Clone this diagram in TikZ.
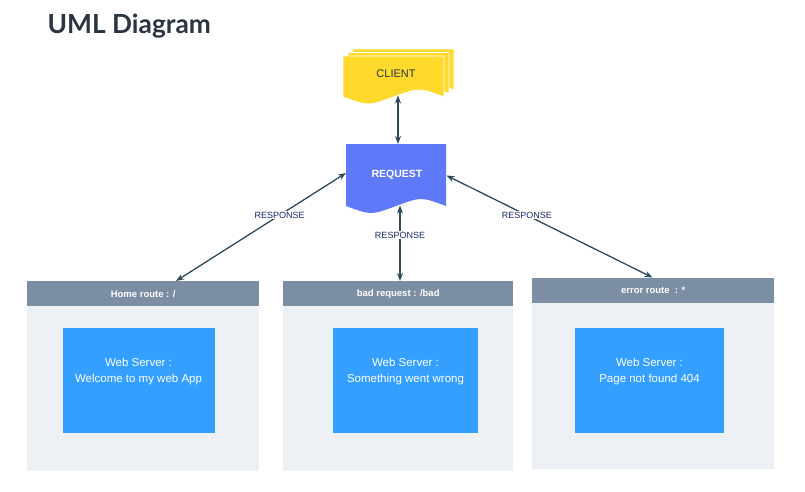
\documentclass[tikz,border=0pt]{standalone}
\usepackage{fontspec}
\setmainfont{Liberation Sans}
\newfontfamily\titlefont{Lato}
\usetikzlibrary{arrows.meta}
\definecolor{cyel}{HTML}{FFD92B}
\definecolor{creq}{HTML}{6078FA}
\definecolor{chdr}{HTML}{7B8EA3}
\definecolor{cbody}{HTML}{EDF1F6}
\definecolor{cinner}{HTML}{349FFF}
\definecolor{carrow}{HTML}{2F4A5A}
\definecolor{clabel}{HTML}{1B2A6B}
\definecolor{ctitle}{HTML}{2B3441}
\tikzset{
  hdr/.style={fill=chdr, draw=none, anchor=north west, inner sep=0pt, text=white,
    font=\fontsize{9.5}{11}\selectfont\bfseries},
  body/.style={fill=cbody, draw=none, anchor=north west, inner sep=0pt},
  inner/.style={fill=cinner, draw=none, anchor=north west, inner sep=0pt},
  innertext/.style={text=white, align=center, font=\fontsize{11.5}{16}\selectfont, inner sep=0pt},
  conn/.style={draw=carrow, line width=1.3pt, {Stealth[length=8pt,width=6pt]}-{Stealth[length=8pt,width=6pt]}},
  resp/.style={fill=white, text=clabel, inner sep=1pt, font=\fontsize{9}{10}\selectfont, pos=0.39},
}
\begin{document}
\begin{tikzpicture}[x=1pt,y=-1pt]
\useasboundingbox (0,0) rectangle (805,492);
% title
\node[anchor=west, text=ctitle, inner sep=0pt, font=\titlefont\fontsize{26.3}{30}\selectfont\bfseries] (title) at (47.5,26) {UML Diagram};
% client multi document
\foreach \dx/\dy in {10/-7, 5/-3.5, 0/0} {
  \filldraw[fill=cyel, draw=white, line width=0.8pt]
    ({343+\dx},{56+\dy}) -- ({444+\dx},{56+\dy}) -- ({444+\dx},{97+\dy})
    .. controls ({418.75+\dx},{87.7+\dy}) .. ({393.5+\dx},{97+\dy})
    .. controls ({368.25+\dx},{106.3+\dy}) .. ({343+\dx},{97+\dy}) -- cycle;
}
\node[text=ctitle, inner sep=0pt, font=\fontsize{11}{13}\selectfont] (client) at (396,73.5) {CLIENT};
% request document
\fill[creq] (346,144) -- (446,144) -- (446,206)
  .. controls (421,196.7) .. (396,206)
  .. controls (371,215.3) .. (346,206) -- cycle;
\node[text=white, inner sep=0pt, font=\fontsize{10.5}{12}\selectfont\bfseries] (request) at (397,174.5) {REQUEST};
% containers
\node[body, minimum width=232pt, minimum height=166pt] (bodyL) at (27,305) {};
\node[hdr, minimum width=232pt, minimum height=25pt] (hdrL) at (27,281) {Home route : /};
\node[body, minimum width=230pt, minimum height=166pt] (bodyM) at (283,305) {};
\node[hdr, minimum width=230pt, minimum height=25pt] (hdrM) at (283,281) {bad request : /bad};
\node[body, minimum width=242pt, minimum height=167pt] (bodyR) at (532,302) {};
\node[hdr, minimum width=242pt, minimum height=25pt] (hdrR) at (532,277.5) {error route \ : *};
% inner boxes
\node[inner, minimum width=152pt, minimum height=105pt] (inL) at (62.5,328) {};
\node[inner, minimum width=145pt, minimum height=105pt] (inM) at (333,328) {};
\node[inner, minimum width=149pt, minimum height=105pt] (inR) at (575,328) {};
\node[innertext] (tL) at (138.5,371.5) {Web Server :\\Welcome to my web App};
\node[innertext] (tM) at (405.5,371.5) {Web Server :\\Something went wrong};
\node[innertext] (tR) at (649.5,371.5) {Web Server :\\Page not found 404};
% connector end points
\coordinate (cliB) at (398,95.5);
\coordinate (reqT) at (398,144);
\coordinate (reqL) at (346,173);
\coordinate (reqB) at (400,205.5);
\coordinate (reqR) at (446.5,175.5);
\coordinate (hL) at (176,281);
\coordinate (hM) at (400,281);
\coordinate (hR) at (652.5,277.5);
% connectors
\draw[conn] (cliB) -- (reqT);
\draw[conn] (reqL) -- node[resp] (r1) {RESPONSE} (hL);
\draw[conn] (reqB) -- node[resp] (r2) {RESPONSE} (hM);
\draw[conn] (reqR) -- node[resp] (r3) {RESPONSE} (hR);
\end{tikzpicture}
\end{document}
